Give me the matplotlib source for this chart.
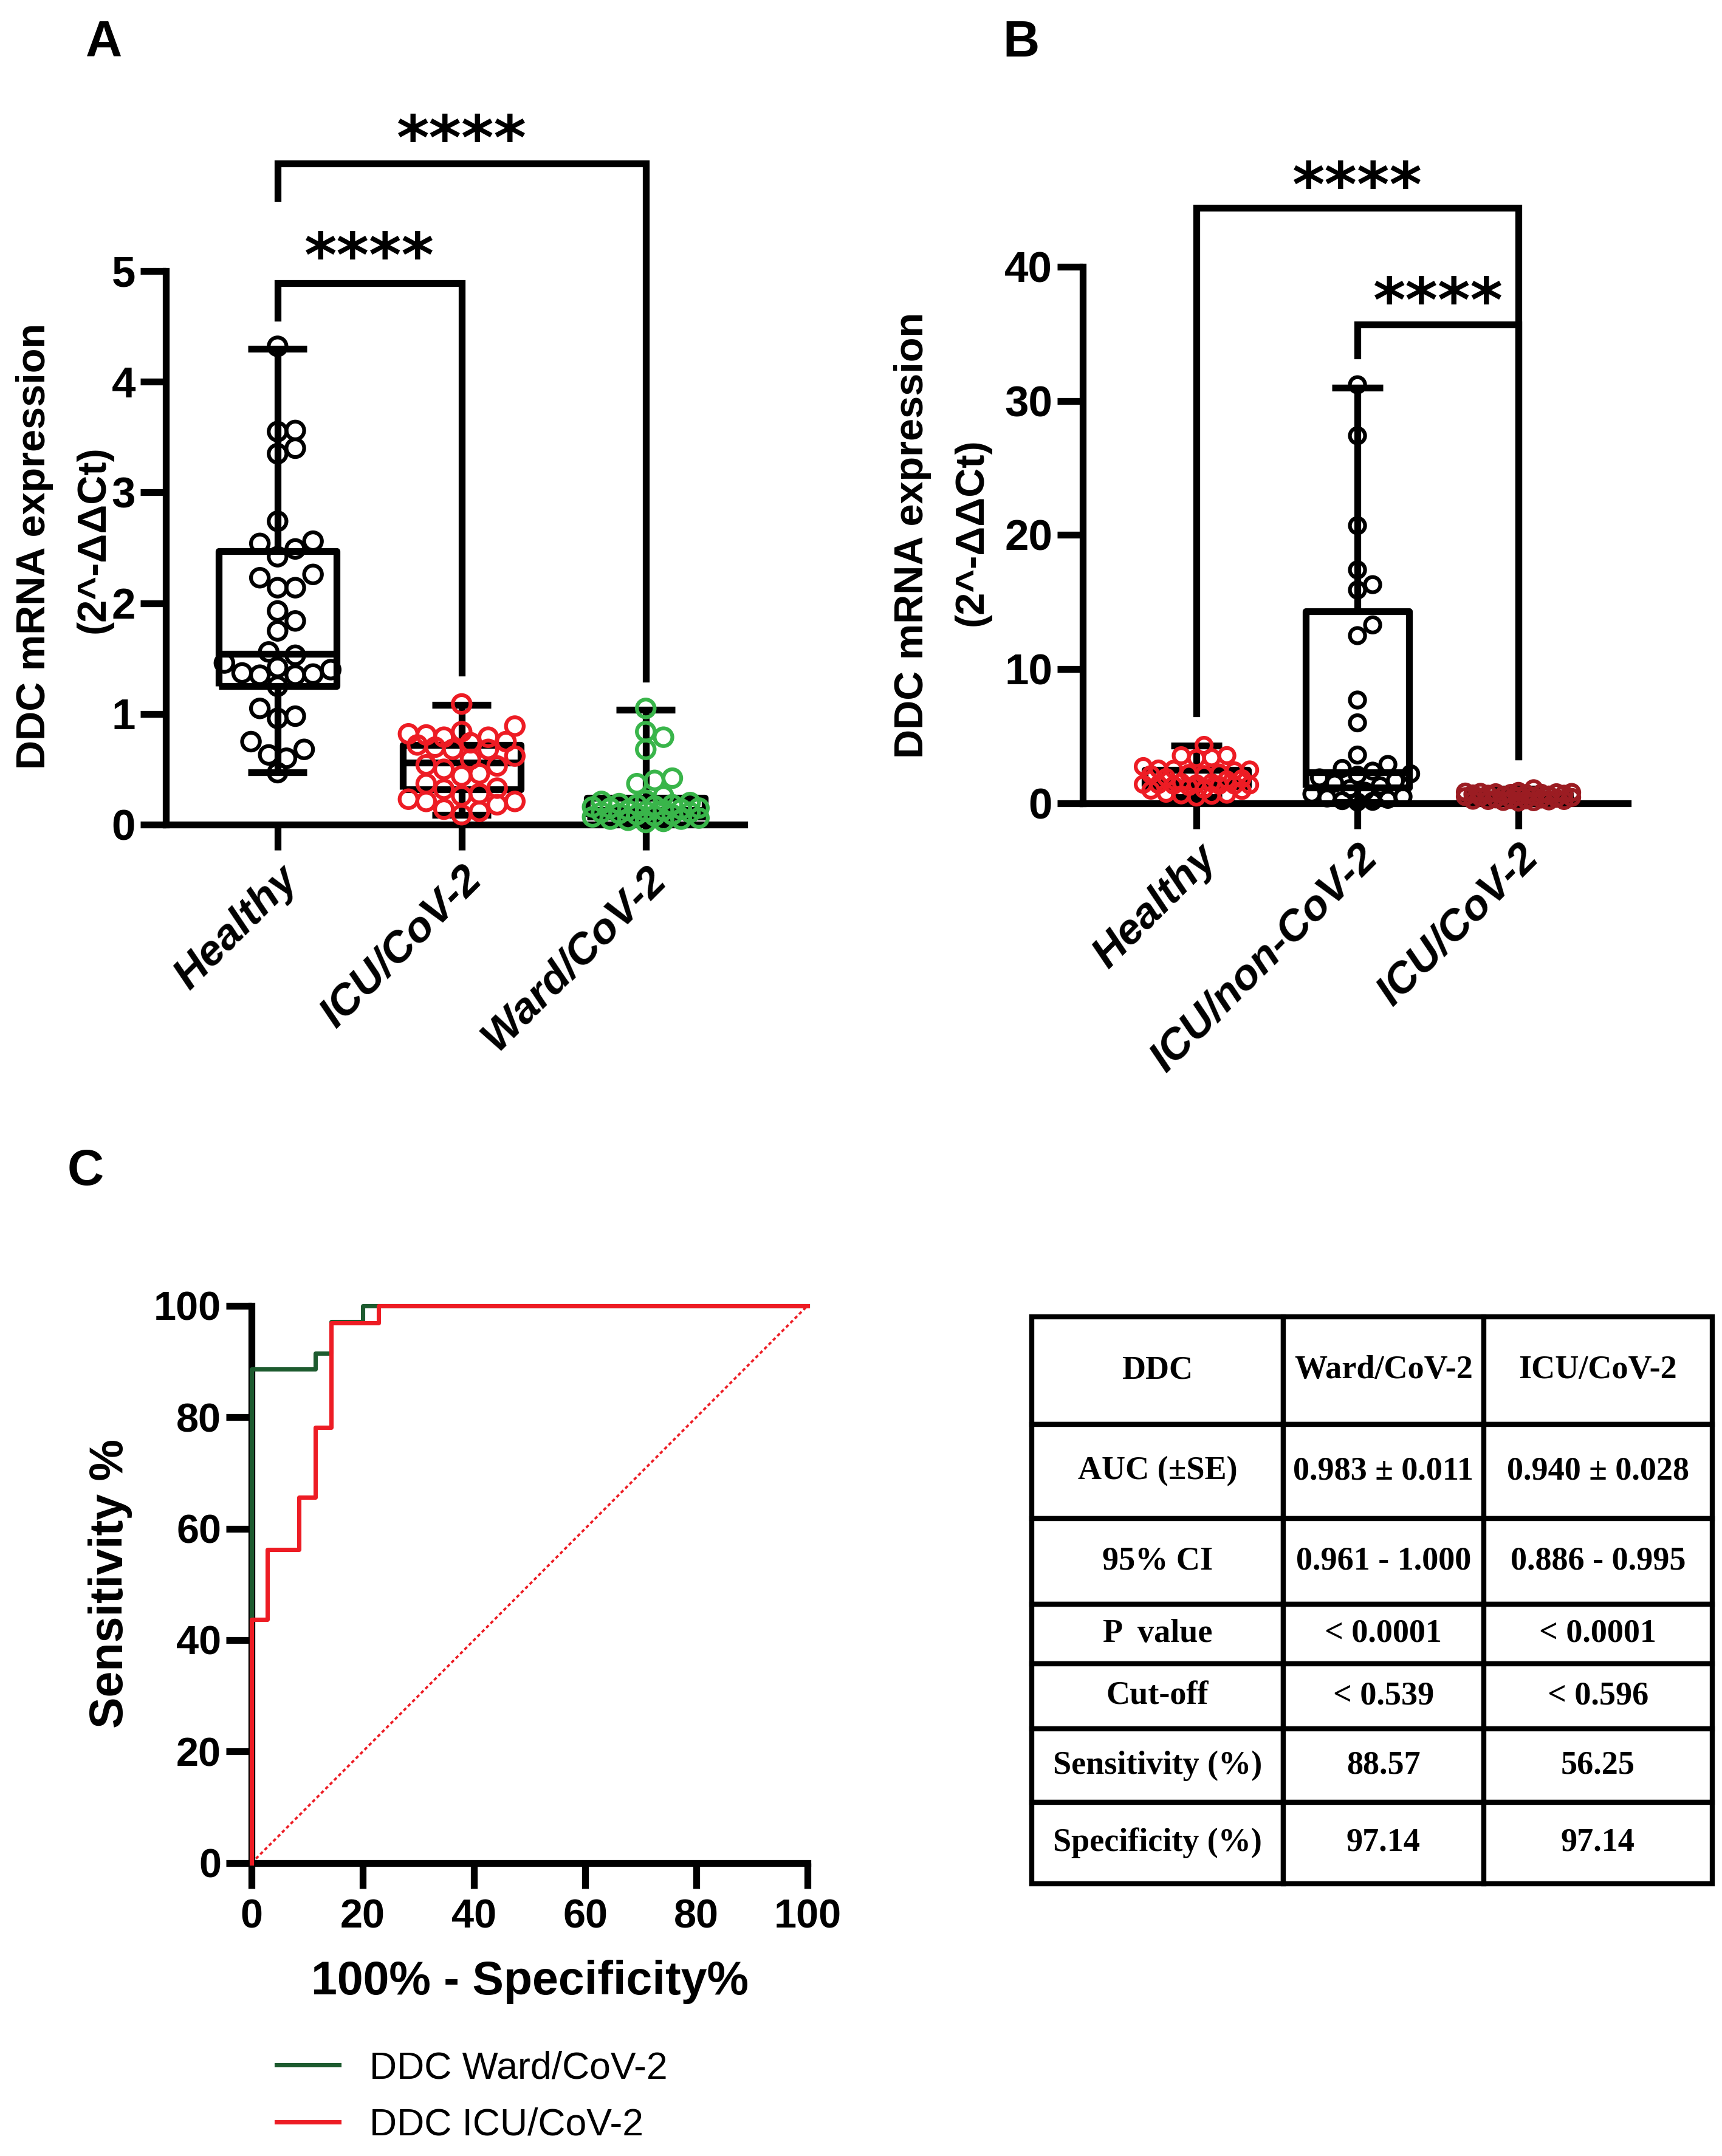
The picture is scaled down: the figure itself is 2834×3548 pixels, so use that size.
import numpy as np
import matplotlib.pyplot as plt

plt.rcParams['font.family'] = ['Liberation Sans', 'DejaVu Sans']
plt.rcParams['font.weight'] = 'bold'

# ---- panel A / B data (2^-ddCt) ----
groups_a = ['Healthy', 'ICU/CoV-2', 'Ward/CoV-2']
groups_b = ['Healthy', 'ICU/non-CoV-2', 'ICU/CoV-2']

healthy = [4.32, 3.56, 3.55, 3.40, 3.35, 2.74, 2.56, 2.54, 2.49, 2.42, 2.26, 2.23,
           2.14, 2.14, 1.93, 1.84, 1.75, 1.56, 1.53, 1.46, 1.42, 1.40, 1.35, 1.35,
           1.36, 1.37, 1.25, 1.05, 0.96, 0.98, 0.75, 0.68, 0.63, 0.60, 0.47]
icu_cov = [1.09, 0.89, 0.84, 0.82, 0.81, 0.79, 0.79, 0.75, 0.72, 0.74, 0.70, 0.68,
           0.68, 0.62, 0.59, 0.54, 0.53, 0.50, 0.46, 0.44, 0.37, 0.33, 0.32, 0.28,
           0.26, 0.23, 0.21, 0.21, 0.18, 0.14, 0.12, 0.09]
ward_cov = [1.05, 0.84, 0.79, 0.68, 0.42, 0.40, 0.37, 0.26, 0.22, 0.21, 0.20, 0.19,
            0.18, 0.18, 0.17, 0.16, 0.15, 0.15, 0.14, 0.13, 0.13, 0.12, 0.11, 0.11,
            0.10, 0.09, 0.09, 0.08, 0.07, 0.06, 0.05, 0.05, 0.04, 0.03, 0.02]
icu_noncov = [31.2, 27.4, 20.7, 17.4, 16.3, 15.9, 13.3, 12.5, 7.7, 6.0, 3.6, 2.9,
              2.6, 2.4, 2.2, 2.1, 1.9, 1.7, 1.5, 1.3, 1.1, 0.9, 0.7, 0.5, 0.4,
              0.3, 0.2, 0.15, 0.1]

# box stats: q1, median, q3, min, max
box_healthy = (1.25, 1.54, 2.47, 0.47, 4.30)
box_icu = (0.32, 0.56, 0.72, 0.09, 1.08)
box_ward = (0.07, 0.13, 0.24, 0.02, 1.04)
box_noncov = (1.16, 2.3, 14.3, 0.1, 31.0)

# ---- panel C: ROC operating points (100% - specificity, sensitivity) ----
ward_fpr = [0, 0, 11.43, 14.29, 20.0, 100]
ward_tpr = [0, 88.57, 91.43, 97.14, 100, 100]
icu_fpr = [0, 0, 2.86, 8.57, 11.43, 14.29, 22.86, 100]
icu_tpr = [0, 43.75, 56.25, 65.63, 78.13, 96.88, 100, 100]

table_rows = [['DDC', 'Ward/CoV-2', 'ICU/CoV-2'],
              ['AUC (±SE)', '0.983 ± 0.011', '0.940 ± 0.028'],
              ['95% CI', '0.961 - 1.000', '0.886 - 0.995'],
              ['P  value', '< 0.0001', '< 0.0001'],
              ['Cut-off', '< 0.539', '< 0.596'],
              ['Sensitivity (%)', '88.57', '56.25'],
              ['Specificity (%)', '97.14', '97.14']]

RED = '#ED1C24'
GREEN = '#39B54A'
DARKRED = '#9B1C22'
ROCGREEN = '#1D5B2F'
LW = 2.7
STAR_FS = 24.5

fig = plt.figure(figsize=(2834 / 300, 3548 / 300), dpi=300)


def swarm_x(ax, xc, vals, size_px, spread_px):
    pts = ax.transData.transform(np.column_stack([np.full(len(vals), xc), vals]))
    ys = pts[:, 1]
    cands = [0.0]
    k = 1
    while k * size_px / 2 <= spread_px:
        cands += [k * size_px / 2, -k * size_px / 2]
        k += 1
    placed = []
    offs = np.zeros(len(vals))
    for i in np.argsort(vals):
        best, best_d = 0.0, -1
        for c in cands:
            d = min([np.hypot(c - px, ys[i] - py) for px, py in placed] or [np.inf])
            if d >= 0.95 * size_px:
                best = c
                break
            if d > best_d:
                best, best_d = c, d
        placed.append((best, ys[i]))
        offs[i] = best
    xy = np.column_stack([pts[:, 0] + offs, ys])
    return ax.transData.inverted().transform(xy)[:, 0]


def style_axes(ax, labelsize, xnum=False):
    for s in ['top', 'right']:
        ax.spines[s].set_visible(False)
    for s in ['left', 'bottom']:
        ax.spines[s].set_linewidth(LW)
    ax.tick_params(width=LW, length=10)
    ax.tick_params(axis='y', labelsize=labelsize, pad=2)
    if xnum:
        ax.tick_params(axis='x', labelsize=labelsize, pad=4)


def dot_box(ax, groups, datasets, boxes, colors, ms, spread):
    stats = []
    for name, (q1, med, q3, lo, hi) in zip(groups, boxes):
        stats.append(dict(label=name, q1=q1, med=med, q3=q3, whislo=lo, whishi=hi, fliers=[]))
    pos = np.arange(len(groups))
    props = dict(color='k', linewidth=LW, solid_capstyle='butt')
    ax.bxp(stats, positions=pos, widths=0.64, capwidths=0.32, showfliers=False,
           boxprops=props, whiskerprops=props, capprops=props,
           medianprops=dict(color='k', linewidth=LW), manage_ticks=False)
    size_px = ms * 300 / 72
    for p, vals, col in zip(pos, datasets, colors):
        xs = swarm_x(ax, p, vals, size_px, spread)
        ax.scatter(xs, vals, s=ms ** 2, facecolors='none', edgecolors=col,
                   linewidths=1.5, zorder=3, clip_on=False)
    ax.set_xticks(pos)
    ax.set_xticklabels(groups, rotation=45, ha='right', va='top',
                       rotation_mode='anchor', style='italic', fontsize=17)


def bracket(ax, x1, x2, y, y1, y2, star_y):
    ax.plot([x1, x1, x2, x2], [y1, y, y, y2], color='k', lw=LW, clip_on=False,
            solid_joinstyle='miter')
    ax.annotate('****', xy=((x1 + x2) / 2, star_y), xytext=(0, -0.6 * STAR_FS + 1.5),
                textcoords='offset points', ha='center', va='baseline',
                fontsize=STAR_FS, fontweight='bold', family='DejaVu Sans',
                annotation_clip=False)


# ---- A ----
axA = fig.add_axes([0.0963, 0.6175, 0.3359, 0.2568])
axA.set_xlim(-0.607, 2.535)
axA.set_ylim(0, 5)
axA.set_yticks([0, 1, 2, 3, 4, 5])
dot_box(axA, groups_a, [healthy, icu_cov, ward_cov], [box_healthy, box_icu, box_ward],
        ['k', RED, GREEN], 7, 95)
style_axes(axA, 17)
bracket(axA, 0, 1, 4.89, 4.58, 1.37, 5.25)
bracket(axA, 0, 2, 5.97, 5.66, 1.32, 6.31)

# ---- B ----
axB = fig.add_axes([0.6288, 0.6274, 0.3165, 0.2489])
axB.set_xlim(-0.706, 2.679)
axB.set_ylim(0, 40)
axB.set_yticks([0, 10, 20, 30, 40])
dot_box(axB, groups_b, [healthy, icu_noncov, icu_cov], [box_healthy, box_noncov, box_icu],
        [RED, 'k', DARKRED], 6, 90)
style_axes(axB, 17)
bracket(axB, 0, 2, 44.4, 6.7, 3.5, 47.0)
bracket(axB, 1, 2, 35.7, 33.4, 3.5, 38.4)

# y labels A / B
fig.text(57 / 2834, 1 - 899 / 3548, 'DDC mRNA expression', rotation=90,
         ha='center', va='center', fontsize=16)
fig.text(155 / 2834, 1 - 888 / 3548, '(2^-ΔΔCt)', rotation=90,
         ha='center', va='center', fontsize=16)
fig.text(1502 / 2834, 1 - 881 / 3548, 'DDC mRNA expression', rotation=90,
         ha='center', va='center', fontsize=16)
fig.text(1600 / 2834, 1 - 876 / 3548, '(2^-ΔΔCt)', rotation=90,
         ha='center', va='center', fontsize=16)

# ---- C ----
axC = fig.add_axes([0.1461, 0.1359, 0.3229, 0.2585])
axC.set_xlim(0, 100)
axC.set_ylim(0, 100)
axC.set_xticks(range(0, 101, 20))
axC.set_yticks(range(0, 101, 20))
style_axes(axC, 16, xnum=True)
axC.plot([0, 100], [0, 100], color=RED, lw=0.9, ls=(0, (1.5, 1.2)), clip_on=False)
axC.step(ward_fpr, ward_tpr, where='post', color=ROCGREEN, lw=1.7, clip_on=False,
         label='DDC Ward/CoV-2', zorder=3)
axC.step(icu_fpr, icu_tpr, where='post', color=RED, lw=1.7, clip_on=False,
         label='DDC ICU/CoV-2', zorder=4)
fig.text(182 / 2834, 1 - 2606 / 3548, 'Sensitivity %', rotation=90,
         ha='center', va='center', fontsize=18.5)
fig.text(872 / 2834, 1 - 3262 / 3548, '100% - Specificity%',
         ha='center', va='center', fontsize=18.5)
fig.legend(*axC.get_legend_handles_labels(), loc='upper left',
           bbox_to_anchor=(0.1605, 0.049), frameon=False, borderpad=0,
           borderaxespad=0, handlelength=1.65, handletextpad=0.8,
           labelspacing=0.55, prop=dict(size=15, weight='normal'))

# ---- table ----
axT = fig.add_axes([0.5991, 0.1263, 0.3952, 0.2630])
axT.axis('off')
col_w = np.array([414, 330, 376], float)
row_h = np.array([177, 155, 141, 98, 107, 121, 134], float)
tab = axT.table(cellText=table_rows, colWidths=list(col_w / col_w.sum()),
                cellLoc='center', bbox=[0, 0, 1, 1])
tab.auto_set_font_size(False)
tab.set_fontsize(13)
for (r, c), cell in tab.get_celld().items():
    cell.set_height(row_h[r] / row_h.sum())
    cell.set_linewidth(2.0)
    cell.get_text().set_fontfamily(['Liberation Serif', 'DejaVu Serif'])
    cell.get_text().set_fontweight('bold')

# panel letters
for lbl, x, y in [('A', 171, 93), ('B', 1680, 93), ('C', 141, 1950)]:
    fig.text(x / 2834, 1 - y / 3548, lbl, ha='center', va='baseline', fontsize=20)

plt.savefig('out.png', dpi=300)
